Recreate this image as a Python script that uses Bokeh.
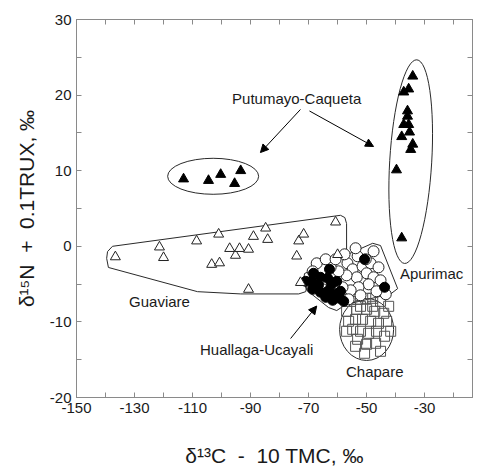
from bokeh.plotting import figure
from bokeh.models import LinearAxis, FixedTicker, Range1d, Arrow, NormalHead, Label
from bokeh.embed import file_html
from bokeh.resources import INLINE

# ---------------- data ----------------
put_left_x = [-113.1, -104.5, -100.3, -95.5, -93.4]
put_left_y = [8.9, 8.7, 9.5, 8.3, 10.0]

put_right_x = [-34.1, -35.5, -37.2, -35.9, -35.9, -37.2, -35.5, -35.2, -37.9, -34.1, -34.8, -39.7, -37.9]
put_right_y = [22.5, 20.8, 20.4, 17.9, 17.2, 16.1, 16.1, 15.1, 14.5, 13.5, 12.8, 10.1, 1.1]

guav_x = [-136.6, -121.4, -120.0, -108.6, -103.4, -100.7, -101.0, -97.2, -95.2, -93.8, -90.7,
          -89.0, -84.8, -84.1, -90.7, -73.4, -71.7, -74.1, -72.8, -60.7, -60.0]
guav_y = [-1.4, -0.1, -1.5, 0.7, -2.4, -2.2, 1.6, -0.3, -1.2, -0.3, -0.4,
          1.3, 2.4, 0.9, -5.7, 0.7, 1.6, -1.3, -4.8, 3.2, -1.1]

apur_x = [-47.6, -53.1, -56.6, -54.8, -51.4, -48.6, -45.9, -50.0, -53.4, -56.9, -59.7, -62.4,
          -65.2, -67.2, -64.1, -60.7, -57.6, -53.8, -50.3, -47.6, -45.2, -49.3, -52.8, -55.5,
          -58.3, -61.0, -63.8, -66.6, -59.0, -56.2, -62.4, -43.4, -46.6, -52.1, -68.6, -65.2]
apur_y = [-0.66, -1.32, -2.25, -3.04, -2.65, -2.25, -2.78, -3.57, -4.10, -3.84, -3.31, -2.78,
          -3.04, -2.25, -1.72, -1.72, -1.06, -0.26, -1.72, -4.10, -4.50, -5.03, -5.42, -5.82,
          -5.42, -4.89, -4.63, -4.63, -6.75, -7.01, -6.35, -6.35, -5.95, -6.48, -3.31, -5.69]

hual_x = [-68.3, -69.0, -66.6, -68.6, -65.9, -63.4, -62.1, -63.4, -61.0, -59.3, -61.7, -64.1,
          -59.0, -60.3, -57.9, -65.9, -50.7, -43.8, -62.8, -71.0]
hual_y = [-3.57, -4.63, -5.16, -5.69, -6.08, -4.23, -5.03, -5.95, -6.35, -6.88, -7.14, -6.75,
          -5.95, -4.63, -7.28, -4.10, -1.72, -5.42, -3.04, -4.63]

chap_x = [-55.5, -53.1, -50.3, -47.9, -45.2, -42.4, -44.1, -47.2, -50.0, -53.4, -56.9, -56.2,
          -53.8, -51.4, -48.6, -45.9, -43.1, -54.8, -52.1, -49.3, -46.6, -43.8, -53.1, -50.0,
          -46.9, -45.2, -50.7, -53.8, -56.9, -41.7, -47.9, -52.1]
chap_y = [-7.28, -7.01, -6.88, -6.88, -7.28, -7.94, -8.86, -8.60, -8.33, -8.33, -8.60, -9.92,
          -9.66, -9.66, -9.92, -10.19, -9.92, -10.98, -11.24, -11.51, -11.24, -11.90, -12.30, -12.96,
          -12.83, -13.89, -14.15, -13.23, -11.24, -11.24, -7.94, -7.94]

# group outlines (data units)
guav_poly_x = [-137.6, -59.0, -57.5, -56.9, -56.9, -69.3, -71.0, -73.4, -93.4, -108.3, -139.0, -139.6, -139.3]
guav_poly_y = [0.0, 4.1, 3.8, 3.0, -0.4, -3.3, -6.0, -6.3, -6.3, -6.0, -2.8, -1.6, -0.7]
apur_poly_x = [-71.4, -47.9, -45.2, -39.3, -41.7, -57.2, -60.3, -63.1, -70.7, -71.7]
apur_poly_y = [-3.6, 0.4, 0.1, -5.6, -6.3, -7.7, -8.5, -8.1, -5.8, -4.6]

x_ticks = [-150, -130, -110, -90, -70, -50, -30]
x_minor = [-140, -120, -100, -80, -60, -40, -20]
y_ticks = [-20, -10, 0, 10, 20, 30]
y_minor = [-15, -5, 5, 15, 25]

FONT = "Liberation Sans"
TXT = "#1a1a1a"
AX = "#8a8a8a"
NB = "\u00a0"

p = figure(width=477, height=471, output_backend="svg", toolbar_location=None,
           x_range=Range1d(-150, -13.5), y_range=Range1d(-20, 30),
           min_border_left=76, min_border_right=5, min_border_top=19, min_border_bottom=74)
p.grid.visible = False
p.outline_line_color = AX
p.background_fill_color = "white"
p.border_fill_color = "white"

for ax in (p.xaxis[0], p.yaxis[0]):
    ax.major_tick_in = 5
    ax.major_tick_out = 0
    ax.minor_tick_in = 5
    ax.minor_tick_out = 0
    ax.axis_line_color = AX
    ax.major_tick_line_color = AX
    ax.minor_tick_line_color = AX
    ax.major_label_text_font = FONT
    ax.major_label_text_font_size = "15px"
    ax.major_label_text_color = TXT
    ax.axis_label_text_font = FONT
    ax.axis_label_text_font_size = "21px"
    ax.axis_label_text_font_style = "normal"
    ax.axis_label_text_color = TXT

p.xaxis[0].ticker = FixedTicker(ticks=x_ticks, minor_ticks=x_minor)
p.yaxis[0].ticker = FixedTicker(ticks=y_ticks, minor_ticks=y_minor)
p.xaxis[0].major_label_overrides = {t: str(t) for t in x_ticks}
p.yaxis[0].major_label_overrides = {t: str(t) for t in y_ticks}
p.xaxis[0].axis_label = "δ¹³C" + NB * 2 + "-" + NB * 2 + "10 TMC, ‰"
p.yaxis[0].axis_label = "δ¹⁵N" + NB * 2 + "+" + NB * 2 + "0.1TRUX, ‰"
p.xaxis[0].major_label_standoff = 5
p.yaxis[0].major_label_standoff = 5
p.xaxis[0].axis_label_standoff = 28
p.yaxis[0].axis_label_standoff = 9

top = LinearAxis(ticker=FixedTicker(ticks=x_ticks, minor_ticks=x_minor))
right = LinearAxis(ticker=FixedTicker(ticks=y_ticks, minor_ticks=y_minor))
for ax in (top, right):
    ax.major_tick_in = 5
    ax.major_tick_out = 0
    ax.minor_tick_in = 5
    ax.minor_tick_out = 0
    ax.axis_line_color = AX
    ax.major_tick_line_color = AX
    ax.minor_tick_line_color = AX
    ax.major_label_text_font_size = "1px"
    ax.major_label_text_color = None
    ax.major_label_standoff = 0
p.add_layout(top, "above")
p.add_layout(right, "right")

LC = "#2a2a2a"
# outlines
p.patch(guav_poly_x, guav_poly_y, fill_color=None, line_color=LC, line_width=1)
p.patch(apur_poly_x, apur_poly_y, fill_color=None, line_color=LC, line_width=1)
p.ellipse(x=[-102.9], y=[9.26], width=[91], height=[36], width_units="screen",
          height_units="screen", fill_color=None, line_color=LC, line_width=1)
p.ellipse(x=[-34.8], y=[11.2], width=[42], height=[204], angle=[-0.06], width_units="screen",
          height_units="screen", fill_color=None, line_color=LC, line_width=1)
p.ellipse(x=[-50.0], y=[-11.0], width=[54], height=[62], width_units="screen",
          height_units="screen", fill_color=None, line_color=LC, line_width=1)

# points
p.scatter(chap_x, chap_y, marker="square", size=10, fill_color=None, line_color="#555555", line_width=1)
p.scatter(apur_x, apur_y, marker="circle", size=11, fill_color="white", line_color="#222222", line_width=1)
p.scatter(hual_x, hual_y, marker="circle", size=10, fill_color="black", line_color="black")
p.scatter(guav_x, guav_y, marker="triangle", size=10, fill_color="white", line_color="#222222", line_width=1)
p.scatter(put_left_x + put_right_x, put_left_y + put_right_y, marker="triangle", size=10,
          fill_color="black", line_color="black")

# arrows
for (x0, y0, x1, y1) in [(-72.8, 18.1, -86.6, 12.4), (-69.7, 17.9, -47.6, 13.2), (-76.2, -12.2, -67.2, -7.9)]:
    p.add_layout(Arrow(end=NormalHead(size=8, fill_color="black", line_color="black"),
                       x_start=x0, y_start=y0, x_end=x1, y_end=y1,
                       line_color="black", line_width=1))

# labels
for (tx, ty, t) in [(-74.1, 19.6, "Putumayo-Caqueta"), (-121.4, -7.3, "Guaviare"),
                    (-27.6, -3.6, "Apurimac"), (-87.9, -13.6, "Huallaga-Ucayali"),
                    (-47.2, -16.5, "Chapare")]:
    p.add_layout(Label(x=tx, y=ty, text=t, text_font=FONT, text_font_size="15px",
                       text_color=TXT, text_align="center", text_baseline="middle"))

open("out.html", "w").write(file_html(p, INLINE))
